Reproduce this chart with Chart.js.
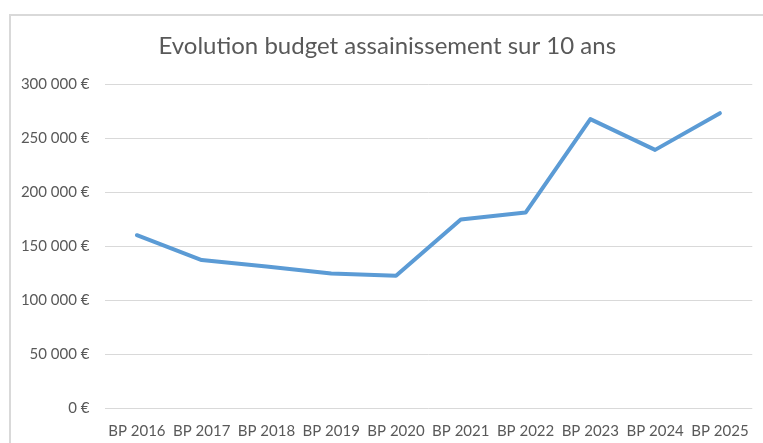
<!DOCTYPE html>
<html>
<head>
<meta charset="utf-8">
<script src="https://cdn.jsdelivr.net/npm/chart.js@4"></script>
<style>
  html, body { margin: 0; padding: 0; background: #fff; }
  #wrap { position: relative; width: 763px; height: 443px; overflow: hidden; }
  #frame { position: absolute; left: 9px; top: 14px; width: 800px; height: 500px; border: 2px solid #d9d9d9; box-sizing: border-box; }
  #chartCanvas { position: absolute; left: 0; top: 0; }
</style>
</head>
<body>
<div id="wrap">
  <div id="frame"></div>
  <canvas id="chartCanvas" width="763" height="443"></canvas>
</div>
<script>
(function() {

  var categories = ['BP 2016', 'BP 2017', 'BP 2018', 'BP 2019', 'BP 2020', 'BP 2021', 'BP 2022', 'BP 2023', 'BP 2024', 'BP 2025'];
  var budget = [160000, 137000, 131000, 124500, 122500, 174500, 181000, 267500, 239000, 273000];
  var yTicks = [0, 50000, 100000, 150000, 200000, 250000, 300000];

  var fontFamily = 'Lato, "Open Sans", sans-serif';
  var textColor = '#595959';

  function formatEuro(v) {
    var s = String(Math.round(v)).replace(/\B(?=(\d{3})+(?!\d))/g, ' ');
    return s + ' €';
  }

  var ctx = document.getElementById('chartCanvas');
  new Chart(ctx, {
    type: 'line',
    data: {
      labels: categories,
      datasets: [{
        label: 'Budget',
        data: budget,
        borderColor: '#5B9BD5',
        borderWidth: 4,
        borderCapStyle: 'round',
        borderJoinStyle: 'round',
        pointRadius: 0,
        tension: 0,
        fill: false
      }]
    },
    options: {
      responsive: false,
      animation: false,
      layout: { padding: { left: 20, right: 8.5, top: 0, bottom: 0 } },
      plugins: {
        legend: { display: false },
        tooltip: { enabled: false },
        title: {
          display: true,
          text: 'Evolution budget assainissement sur 10 ans',
          color: textColor,
          font: { family: fontFamily, size: 24, weight: 'normal', lineHeight: 1.2 },
          padding: { top: 32, bottom: 23.2 }
        }
      },
      scales: {
        x: {
          offset: true,
          afterFit: function(scale) { scale.height = 35; },
          grid: { display: false, drawTicks: false },
          border: { display: false },
          ticks: { color: textColor, font: { family: fontFamily, size: 15 }, padding: 14, maxRotation: 0, autoSkip: false }
        },
        y: {
          min: 0,
          max: 300000,
          afterBuildTicks: function(scale) {
            scale.ticks = yTicks.map(function(v) { return { value: v }; });
          },
          afterFit: function(scale) { scale.width = 84.5; },
          grid: { color: '#d9d9d9', lineWidth: 1, drawTicks: false },
          border: { display: false },
          ticks: {
            color: textColor,
            font: { family: fontFamily, size: 15 },
            padding: 15,
            callback: function(v) { return formatEuro(v); }
          }
        }
      }
    }
  });

})();
</script>
</body>
</html>
